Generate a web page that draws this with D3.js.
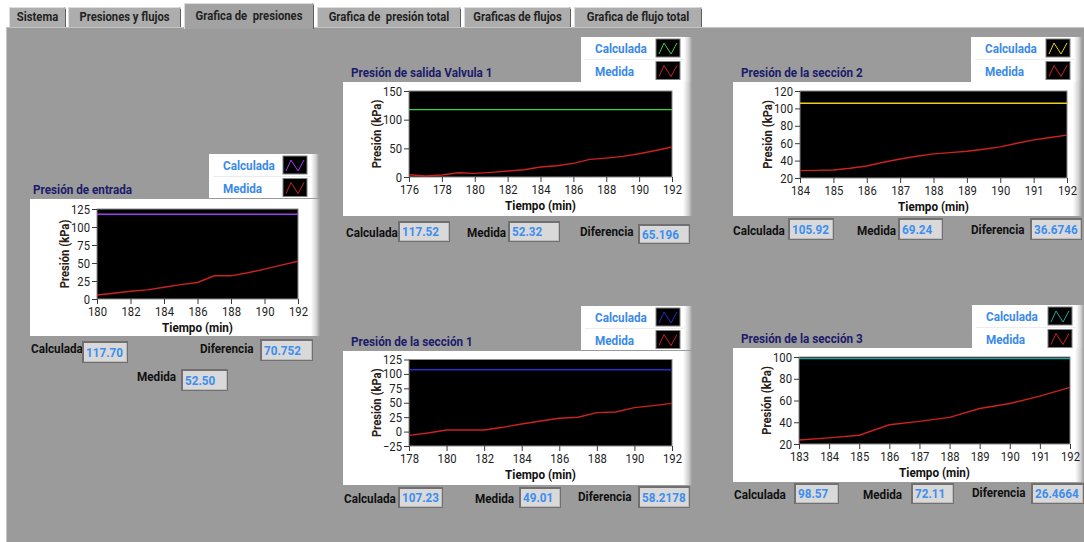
<!DOCTYPE html>
<html>
<head>
<meta charset="utf-8">
<script src="https://cdn.jsdelivr.net/npm/d3@7"></script>
<style>
  html, body { margin: 0; padding: 0; background: #ffffff; }
  svg { display: block; }
  text { font-family: Roboto, "Liberation Sans", sans-serif; white-space: pre; }
</style>
</head>
<body>
<svg id="panel" width="1084" height="542"></svg>
<script>
// ---------- Tab labels ----------
const tabLabels = ["Sistema", "Presiones y flujos", "Grafica de  presiones",
                   "Grafica de  presión total", "Graficas de flujos", "Grafica de flujo total"];
const activeTab = 2;

// ---------- Presión de entrada ----------
const entradaTiempo   = [180, 181, 182, 183, 184, 185, 186, 187, 188, 189, 190, 191, 192];
const entradaMedida   = [5.6, 7.9, 10.7, 12.6, 16.3, 20.0, 22.9, 32.2, 32.2, 36.4, 41.5, 47.1, 52.50];
const entradaCalculada = 117.70;
const entradaDiferencia = "70.752";
const entradaTicksX = [180, 182, 184, 186, 188, 190, 192];
const entradaTicksY = [0, 25, 50, 75, 100, 125];

// ---------- Presión de salida Valvula 1 ----------
const valvulaTiempo   = [176, 177, 178, 179, 180, 181, 182, 183, 184, 185, 186, 187, 188, 189, 190, 191, 192];
const valvulaMedida   = [4.0, 1.7, 3.5, 7.5, 6.4, 8.1, 10.4, 12.7, 17.4, 19.7, 23.7, 30.7, 33.0, 35.9, 40.5, 46.3, 52.32];
const valvulaCalculada = 117.52;
const valvulaDiferencia = "65.196";
const valvulaTicksX = [176, 178, 180, 182, 184, 186, 188, 190, 192];
const valvulaTicksY = [0, 50, 100, 150];

// ---------- Presión de la sección 2 ----------
const seccion2Tiempo  = [184, 184.5, 185, 185.5, 186, 186.5, 187, 187.5, 188, 188.5, 189, 189.5, 190, 190.5, 191, 191.5, 192];
const seccion2Medida  = [28.5, 28.8, 29.2, 31.2, 33.8, 38.1, 41.9, 45.0, 47.7, 49.2, 50.8, 53.1, 55.8, 60.0, 63.8, 66.5, 69.24];
const seccion2Calculada = 105.92;
const seccion2Diferencia = "36.6746";
const seccion2TicksX = [184, 185, 186, 187, 188, 189, 190, 191, 192];
const seccion2TicksY = [20, 40, 60, 80, 100, 120];

// ---------- Presión de la sección 1 ----------
const seccion1Tiempo  = [178, 179, 180, 181, 182, 183, 184, 185, 186, 187, 188, 189, 190, 191, 192];
const seccion1Medida  = [-6.5, -2.4, 2.8, 2.8, 2.8, 7.4, 13.2, 18.4, 23.0, 24.8, 32.9, 34.0, 41.6, 45.0, 49.01];
const seccion1Calculada = 107.23;
const seccion1Diferencia = "58.2178";
const seccion1TicksX = [178, 180, 182, 184, 186, 188, 190, 192];
const seccion1TicksY = [-25, 0, 25, 50, 75, 100, 125];

// ---------- Presión de la sección 3 ----------
const seccion3Tiempo  = [183, 184, 185, 186, 187, 188, 189, 190, 191, 192];
const seccion3Medida  = [23.7, 25.6, 28.1, 37.7, 40.8, 44.5, 52.6, 57.2, 64.0, 72.11];
const seccion3Calculada = 98.57;
const seccion3Diferencia = "26.4664";
const seccion3TicksX = [183, 184, 185, 186, 187, 188, 189, 190, 191, 192];
const seccion3TicksY = [20, 40, 60, 80, 100];

// ---------- Styling ----------
const panelGray = "#9b9b9b";
const medidaColor = "#cc2222";
const valueBlue = "#3d8ef0";
const legendBlue = "#3a8ae8";
const titleNavy = "#1c1c6a";
const fmt2 = d3.format(".2f");
const squeeze = 0.9;   // horizontal condensing applied to every label

const svg = d3.select("#panel");
const defs = svg.append("defs");
const shade = defs.append("linearGradient").attr("id", "edgeShade")
  .attr("x1", 0).attr("x2", 1).attr("y1", 0).attr("y2", 0);
shade.append("stop").attr("offset", 0).attr("stop-color", "#ffffff");
shade.append("stop").attr("offset", 0.6).attr("stop-color", "#d2d2d2");
shade.append("stop").attr("offset", 1).attr("stop-color", "#9c9c9c");

// page + tab control body
svg.append("rect").attr("width", 1084).attr("height", 542).attr("fill", "#ffffff");
svg.append("rect").attr("x", 6).attr("y", 27).attr("width", 1078).attr("height", 515).attr("fill", panelGray);
svg.append("line").attr("x1", 6).attr("x2", 1084).attr("y1", 27.5).attr("y2", 27.5).attr("stroke", "#c4c4c4");
svg.append("line").attr("x1", 6.5).attr("x2", 6.5).attr("y1", 27).attr("y2", 542).attr("stroke", "#c4c4c4");

// ---------- Tabs ----------
const tabEdges = [[9, 66], [68, 181], [184, 314], [317, 461], [464, 571], [574, 702]];
const tabs = svg.append("g");
tabLabels.forEach((label, i) => {
  const [l, r] = tabEdges[i];
  const active = i === activeTab;
  const top = active ? 3 : 7;
  const bottom = active ? 29 : 27;
  const t = tabs.append("g");
  t.append("path")
    .attr("d", `M${l},${bottom} L${l},${top + 2} Q${l},${top} ${l + 2},${top} L${r - 2},${top} Q${r},${top} ${r},${top + 2} L${r},${bottom}`)
    .attr("fill", active ? "#a2a2a2" : "#adadad")
    .attr("stroke", "none");
  t.append("path")
    .attr("d", `M${l + 0.5},${bottom} L${l + 0.5},${top + 2} Q${l + 0.5},${top + 0.5} ${l + 2},${top + 0.5} L${r - 2},${top + 0.5}`)
    .attr("fill", "none").attr("stroke", "#dcdcdc");
  t.append("line").attr("x1", r - 0.5).attr("x2", r - 0.5).attr("y1", top + 2).attr("y2", bottom)
    .attr("stroke", "#5e5e5e");
  t.append("text")
    .attr("x", (l + r) / 2).attr("y", active ? 19.5 : 21)
    .attr("text-anchor", "middle")
    .attr("font-size", 12.5).attr("font-weight", "bold")
    .attr("fill", "#232323")
    .text(label);
});

// ---------- Chart builder ----------
function valueBox(g, label, lx, ly, box, text) {
  g.append("text").attr("x", lx).attr("y", ly)
    .attr("font-size", 13).attr("font-weight", "bold").attr("fill", "#111")
    .text(label);
  g.append("rect").attr("x", box[0]).attr("y", box[1]).attr("width", box[2]).attr("height", box[3])
    .attr("fill", "#707070");
  g.append("rect").attr("x", box[0] + 2).attr("y", box[1] + 2).attr("width", box[2] - 3).attr("height", box[3] - 3)
    .attr("fill", "#bcbcbc");
  g.append("rect").attr("x", box[0] + 2).attr("y", box[1] + 2).attr("width", box[2] - 4).attr("height", box[3] - 4)
    .attr("fill", "#d9d9d9");
  g.append("text").attr("x", box[0] + 4).attr("y", box[1] + box[3] / 2 + 4.5)
    .attr("font-size", 13).attr("font-weight", "bold").attr("fill", valueBlue)
    .text(text);
}

function legendSwatch(g, x, y, color) {
  g.append("rect").attr("x", x).attr("y", y).attr("width", 24).attr("height", 18)
    .attr("fill", "#000").attr("stroke", "#808080");
  g.append("path")
    .attr("d", `M${x + 3},${y + 15} L${x + 8},${y + 4} L${x + 15},${y + 15} L${x + 21},${y + 4}`)
    .attr("fill", "none").attr("stroke", color).attr("stroke-width", 1);
}

function drawChart(c) {
  const g = svg.append("g");

  // legend
  const L = c.legend;
  g.append("rect").attr("x", L.x).attr("y", L.y).attr("width", L.w).attr("height", L.h).attr("fill", "#ffffff");
  g.append("rect").attr("x", L.x + L.w - 8).attr("y", L.y).attr("width", 8).attr("height", L.h).attr("fill", "url(#edgeShade)");
  g.append("line").attr("x1", L.x + 4).attr("x2", L.x + L.w - 8).attr("y1", L.y + 22.5).attr("y2", L.y + 22.5).attr("stroke", "#ececec");
  g.append("text").attr("x", L.x + 14).attr("y", L.y + 16)
    .attr("font-size", 13).attr("font-weight", "bold").attr("fill", legendBlue).text("Calculada");
  g.append("text").attr("x", L.x + 14).attr("y", L.y + 38.5)
    .attr("font-size", 13).attr("font-weight", "bold").attr("fill", legendBlue).text("Medida");
  legendSwatch(g, L.x + L.w - 36, L.y + 2, c.calcColor);
  legendSwatch(g, L.x + L.w - 36, L.y + 24.5, medidaColor);

  // title
  g.append("text").attr("x", c.title.x).attr("y", c.title.y)
    .attr("font-size", 13).attr("font-weight", "bold").attr("fill", titleNavy).text(c.name);

  // white frame
  const F = c.frame;
  g.append("rect").attr("x", F.x).attr("y", F.y).attr("width", F.w).attr("height", F.h).attr("fill", "#ffffff");
  g.append("rect").attr("x", F.x + F.w - 9).attr("y", F.y).attr("width", 9).attr("height", F.h).attr("fill", "url(#edgeShade)");

  // scales
  const P = c.plot;
  const x = d3.scaleLinear().domain(c.xDomain).range([P.x, P.x + P.w]);
  const y = d3.scaleLinear().domain(c.yDomain).range([P.y + P.h, P.y]);

  // plot area
  g.append("rect").attr("x", P.x).attr("y", P.y).attr("width", P.w).attr("height", P.h)
    .attr("fill", "#000").attr("stroke", "#8a8a8a").attr("stroke-width", 1);

  // axes
  const yAxis = d3.axisLeft(y).tickValues(c.yTicks).tickSize(5).tickPadding(2).tickFormat(d3.format("d"));
  const xAxis = d3.axisBottom(x).tickValues(c.xTicks).tickSize(5).tickPadding(2).tickFormat(d3.format("d"));
  const ya = g.append("g").attr("transform", `translate(${P.x},0)`).call(yAxis);
  const xa = g.append("g").attr("transform", `translate(0,${P.y + P.h})`).call(xAxis);
  [ya, xa].forEach(a => {
    a.select(".domain").remove();
    a.selectAll(".tick line").attr("stroke", "#3a3a3a");
    a.selectAll(".tick text").attr("fill", "#1e1e1e").attr("font-size", 12.5)
      .attr("font-family", null);
  });
  xa.selectAll(".tick text").attr("dy", "0.8em");

  // axis titles
  g.append("text")
    .attr("transform", `translate(${P.x - 28},${P.y + P.h / 2}) rotate(-90)`)
    .attr("text-anchor", "middle")
    .attr("font-size", 12.5).attr("font-weight", "bold").attr("fill", "#2a2015")
    .text("Presión (kPa)");
  g.append("text")
    .attr("x", P.x + P.w / 2).attr("y", P.y + P.h + 32.5)
    .attr("text-anchor", "middle")
    .attr("font-size", 13).attr("font-weight", "bold").attr("fill", "#111")
    .text("Tiempo (min)");

  // series
  const clipId = "clip" + c.id;
  defs.append("clipPath").attr("id", clipId)
    .append("rect").attr("x", P.x).attr("y", P.y).attr("width", P.w).attr("height", P.h);
  const lines = g.append("g").attr("clip-path", `url(#${clipId})`);
  lines.append("line")
    .attr("x1", x(c.xDomain[0])).attr("x2", x(c.xDomain[1]))
    .attr("y1", y(c.calculada)).attr("y2", y(c.calculada))
    .attr("stroke", c.calcColor).attr("stroke-width", 1.3);
  const line = d3.line().x((d, i) => x(c.tiempo[i])).y(d => y(d));
  lines.append("path").datum(c.medida)
    .attr("d", line).attr("fill", "none")
    .attr("stroke", medidaColor).attr("stroke-width", 1.4);

  // readouts
  const B = c.boxes;
  valueBox(g, "Calculada", B.calc.lx, B.calc.ly, B.calc.box, fmt2(c.calculada));
  valueBox(g, "Medida", B.med.lx, B.med.ly, B.med.box, fmt2(c.medida[c.medida.length - 1]));
  valueBox(g, "Diferencia", B.dif.lx, B.dif.ly, B.dif.box, c.diferencia);
}

// ---------- Charts ----------
const charts = [
  {
    id: 1, name: "Presión de entrada", calcColor: "#a23cf0",
    tiempo: entradaTiempo, medida: entradaMedida, calculada: entradaCalculada, diferencia: entradaDiferencia,
    xDomain: [180, 192], yDomain: [0, 125], xTicks: entradaTicksX, yTicks: entradaTicksY,
    title: { x: 33, y: 194 },
    legend: { x: 209, y: 154, w: 110, h: 44 },
    frame: { x: 30, y: 199, w: 290, h: 137 },
    plot: { x: 97, y: 209, w: 201, h: 90 },
    boxes: {
      calc: { lx: 31, ly: 353, box: [82, 341, 46, 22] },
      dif:  { lx: 200, ly: 353, box: [260, 339, 53, 22] },
      med:  { lx: 137, ly: 381, box: [181, 369, 47, 22] }
    }
  },
  {
    id: 2, name: "Presión de salida Valvula 1", calcColor: "#3fd23f",
    tiempo: valvulaTiempo, medida: valvulaMedida, calculada: valvulaCalculada, diferencia: valvulaDiferencia,
    xDomain: [176, 192], yDomain: [0, 150], xTicks: valvulaTicksX, yTicks: valvulaTicksY,
    title: { x: 351, y: 77 },
    legend: { x: 581, y: 37, w: 111, h: 45 },
    frame: { x: 343, y: 82, w: 349, h: 134 },
    plot: { x: 409, y: 91, w: 263, h: 86 },
    boxes: {
      calc: { lx: 346, ly: 237, box: [398, 221, 52, 21] },
      med:  { lx: 467, ly: 237, box: [508, 221, 52, 21] },
      dif:  { lx: 580, ly: 236, box: [638, 224, 52, 20] }
    }
  },
  {
    id: 3, name: "Presión de la sección 2", calcColor: "#e8d21e",
    tiempo: seccion2Tiempo, medida: seccion2Medida, calculada: seccion2Calculada, diferencia: seccion2Diferencia,
    xDomain: [184, 192], yDomain: [20, 120], xTicks: seccion2TicksX, yTicks: seccion2TicksY,
    title: { x: 741, y: 77 },
    legend: { x: 971, y: 37, w: 111, h: 45 },
    frame: { x: 733, y: 82, w: 349, h: 134 },
    plot: { x: 800, y: 91, w: 267, h: 87 },
    boxes: {
      calc: { lx: 733, ly: 235, box: [788, 218, 46, 22] },
      med:  { lx: 857, ly: 235, box: [898, 218, 45, 22] },
      dif:  { lx: 971, ly: 234, box: [1030, 218, 52, 22] }
    }
  },
  {
    id: 4, name: "Presión de la sección 1", calcColor: "#2a2ac4",
    tiempo: seccion1Tiempo, medida: seccion1Medida, calculada: seccion1Calculada, diferencia: seccion1Diferencia,
    xDomain: [178, 192], yDomain: [-25, 125], xTicks: seccion1TicksX, yTicks: seccion1TicksY,
    title: { x: 351, y: 346 },
    legend: { x: 581, y: 306, w: 111, h: 44 },
    frame: { x: 343, y: 351, w: 349, h: 134 },
    plot: { x: 409, y: 359.5, w: 263, h: 86.5 },
    boxes: {
      calc: { lx: 344, ly: 503, box: [398, 487, 45, 21] },
      med:  { lx: 475, ly: 503, box: [519, 487, 42, 21] },
      dif:  { lx: 578, ly: 501, box: [638, 486, 52, 22] }
    }
  },
  {
    id: 5, name: "Presión de la sección 3", calcColor: "#1fa6a6",
    tiempo: seccion3Tiempo, medida: seccion3Medida, calculada: seccion3Calculada, diferencia: seccion3Diferencia,
    xDomain: [183, 192], yDomain: [20, 100], xTicks: seccion3TicksX, yTicks: seccion3TicksY,
    title: { x: 741, y: 343 },
    legend: { x: 972, y: 305, w: 112, h: 44 },
    frame: { x: 733, y: 348, w: 351, h: 134 },
    plot: { x: 799, y: 357, w: 271, h: 87 },
    boxes: {
      calc: { lx: 734, ly: 499, box: [794, 483, 45, 21] },
      med:  { lx: 863, ly: 499, box: [911, 483, 43, 21] },
      dif:  { lx: 972, ly: 497, box: [1031, 483, 53, 21] }
    }
  }
];

charts.forEach(drawChart);

// Condense every label horizontally, like the narrow panel typeface.
svg.selectAll("text").each(function () {
  const w = this.getComputedTextLength();
  if (w > 0) {
    d3.select(this).attr("textLength", (w * squeeze).toFixed(2)).attr("lengthAdjust", "spacingAndGlyphs");
  }
});
</script>
</body>
</html>
